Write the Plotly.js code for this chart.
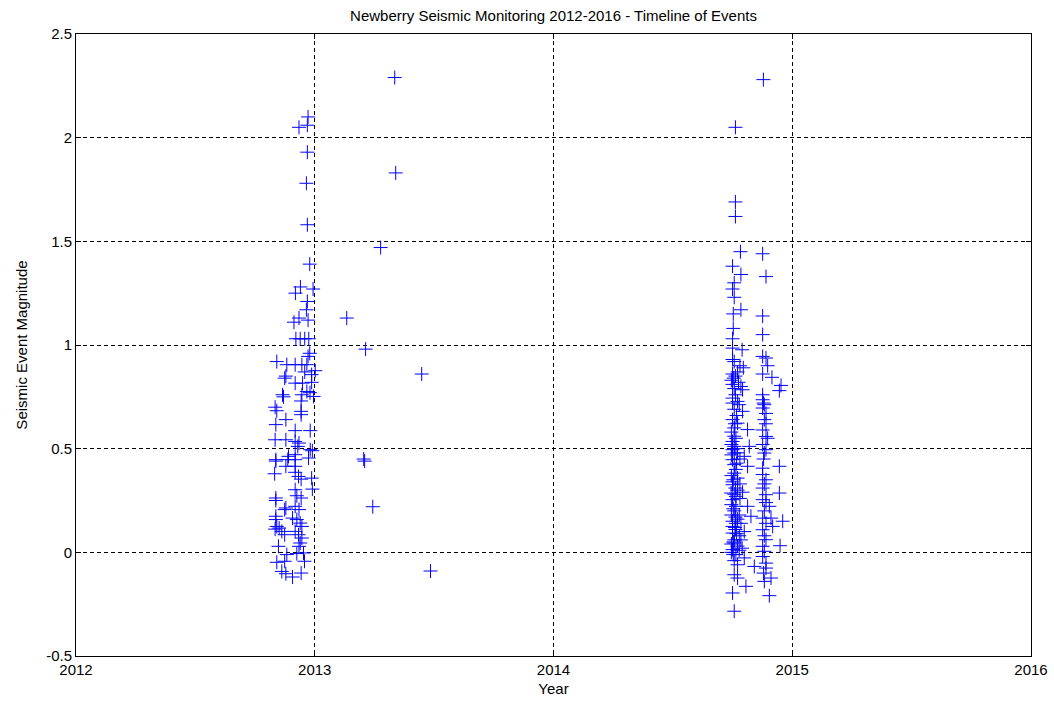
<!DOCTYPE html>
<html>
<head>
<meta charset="utf-8">
<script src="https://cdn.plot.ly/plotly-3.0.1.min.js"></script>
<style>html,body{margin:0;padding:0;background:#fff;}#chart{width:1054px;height:704px;}</style>
</head>
<body>
<div id="chart"></div>
<script>
// ---- Data ----
// Cluster late 2012
var yearsA = [2012.972,2012.969,2012.934,2012.969,2012.965,2012.969,2012.979,2012.940,2012.919,2012.993,2012.969,2012.965,2012.934,2012.913,2012.972,
2012.921,2012.939,2012.958,2012.975,2012.979,2012.972,2012.841,2012.883,2012.918,2012.946,2012.967,2013.002,2012.958,2012.987,2012.879,2012.874,
2012.918,2012.949,2012.987,2012.967,2012.980,2012.995,2012.865,2012.869,2012.946,2012.943,2012.834,2012.841,2012.943,2012.943,2012.879,2012.837,
2012.918,2012.981,2012.834,2012.879,2012.918,2012.934,2012.929,2012.981,2012.990,2012.918,2012.890,2012.837,2012.837,2012.887,2012.918,2012.974,
2012.879,2012.918,2012.832,2012.918,2012.932,2012.943,2012.987,2012.990,2012.918,2012.925,2012.943,2012.837,2012.837,2012.879,2012.874,2012.918,
2012.934,2012.837,2012.837,2012.907,2012.925,2012.939,2012.946,2012.841,2012.851,2012.834,2012.862,2012.874,2012.918,2012.932,2012.946,2012.939,
2012.934,2012.848,2012.883,2012.925,2012.953,2012.957,2012.841,2012.874,2012.862,2012.879,2012.907,2012.943];
var magsA = [2.10,2.06,2.05,1.93,1.78,1.58,1.39,1.28,1.25,1.27,1.21,1.17,1.13,1.11,1.12,
1.03,1.03,1.03,1.03,0.96,0.945,0.92,0.905,0.905,0.905,0.905,0.876,0.87,0.857,0.85,0.84,
0.816,0.816,0.82,0.776,0.77,0.752,0.76,0.75,0.76,0.73,0.70,0.683,0.68,0.664,0.64,0.616,
0.587,0.587,0.543,0.543,0.535,0.527,0.511,0.495,0.49,0.471,0.463,0.447,0.44,0.447,0.447,0.455,
0.415,0.415,0.379,0.386,0.366,0.353,0.358,0.305,0.302,0.273,0.262,0.262,0.25,0.214,0.206,0.222,
0.206,0.174,0.158,0.165,0.158,0.141,0.125,0.125,0.117,0.112,0.101,0.085,0.101,0.085,0.069,0.045,
0.029,0.029,-0.011,-0.006,-0.003,-0.043,-0.048,-0.043,-0.092,-0.103,-0.119,-0.10];

// Isolated events in 2013
var yearsB = [2013.335,2013.339,2013.276,2013.134,2013.213,2013.448,2013.205,2013.209,2013.243,2013.485];
var magsB  = [2.29,1.83,1.47,1.13,0.98,0.86,0.45,0.44,0.22,-0.09];

// Cluster late 2014 (first column)
var yearsC = [2014.762,2014.762,2014.762,2014.783,2014.750,2014.785,2014.757,2014.750,2014.757,2014.785,2014.753,2014.753,2014.750,2014.750,2014.790,
2014.750,2014.757,2014.781,2014.795,2014.750,2014.762,2014.755,2014.775,2014.750,2014.785,2014.757,2014.792,2014.750,2014.771,2014.778,2014.792,2014.757,
2014.750,2014.771,2014.813,2014.757,2014.757,2014.750,2014.757,2014.820,2014.750,2014.757,2014.799,2014.764,2014.745,2014.745,
2014.750,2014.757,2014.813,2014.764,2014.757,2014.771,2014.750,2014.750,2014.744,2014.764,2014.792,2014.771,
2014.750,2014.764,2014.813,2014.827,2014.757,2014.745,2014.771,2014.750,2014.750,2014.785,2014.762,2014.750,2014.778,2014.757,2014.757,2014.771,
2014.750,2014.790,2014.764,2014.745,2014.799,2014.757,2014.841,2014.771,2014.757,2014.771,2014.806,2014.750,2014.757,
2014.753,2014.767,2014.760,2014.778,2014.745,2014.781,2014.753,2014.762,2014.757,2014.762,2014.781,2014.753,2014.745,2014.767,2014.781,
2014.771,2014.764,2014.745,2014.760,2014.767,2014.750,2014.762,2014.745,2014.771,2014.785,2014.753,2014.778,2014.745,2014.799,2014.764];
var magsC = [2.05,1.69,1.62,1.45,1.38,1.34,1.30,1.27,1.23,1.17,1.15,1.08,1.03,0.985,0.977,
0.93,0.92,0.90,0.89,0.86,0.85,0.84,0.82,0.81,0.80,0.79,0.784,0.744,0.728,0.712,0.68,0.69,
0.64,0.623,0.592,0.60,0.56,0.535,0.511,0.511,0.495,0.479,0.463,0.50,0.52,0.47,
0.447,0.423,0.415,0.40,0.382,0.358,0.34,0.326,0.286,0.27,0.29,0.30,
0.254,0.222,0.222,0.174,0.20,0.18,0.16,0.15,0.125,0.14,0.11,0.093,0.08,0.06,0.045,0.03,
0.013,0.02,-0.011,0.0,-0.027,-0.04,-0.068,-0.06,-0.108,-0.124,-0.164,-0.196,-0.284,
0.05,0.09,0.12,0.18,0.23,0.26,0.21,0.17,0.28,0.31,0.33,0.35,0.37,0.43,0.45,
0.48,0.55,0.58,0.62,0.66,0.72,0.76,0.83,0.87,0.06,-0.01,0.01,0.04,0.10,0.14];

// Cluster late 2014 (second column)
var yearsD = [2014.879,2014.876,2014.890,2014.876,2014.876,2014.876,2014.890,2014.897,2014.876,2014.915,2014.953,2014.946,
2014.876,2014.876,2014.883,2014.876,2014.880,2014.890,2014.876,2014.890,2014.897,2014.890,2014.883,2014.946,2014.876,2014.876,2014.890,
2014.946,2014.876,2014.890,2014.876,2014.904,2014.876,2014.911,2014.960,2014.918,2014.876,2014.890,2014.876,2014.949,2014.883,
2014.890,2014.890,2014.911,2014.883,2014.904,
2014.883,2014.890,2014.880,2014.876,2014.883,2014.890,2014.883,2014.883,2014.890,2014.876,2014.880];
var magsD = [2.28,1.44,1.33,1.14,1.05,0.945,0.937,0.90,0.86,0.844,0.805,0.78,
0.76,0.736,0.712,0.696,0.72,0.62,0.59,0.559,0.55,0.495,0.479,0.415,0.406,0.375,0.35,
0.286,0.31,0.278,0.254,0.222,0.165,0.165,0.15,0.125,0.109,0.061,0.029,0.032,0.005,
-0.052,-0.076,-0.124,-0.14,-0.209,
0.20,0.24,0.45,0.52,0.64,0.67,0.33,0.08,0.14,-0.02,-0.10];

var yearTicks = [2012, 2013, 2014, 2015, 2016];
var yearTickText = ['2012', '2013', '2014', '2015', '2016'];
var magTicks = [-0.5, 0, 0.5, 1, 1.5, 2, 2.5];
var magTickText = ['-0.5', '0', '0.5', '1', '1.5', '2', '2.5'];

// ---- Chart ----
var allYears = yearsA.concat(yearsB, yearsC, yearsD);
var allMags = magsA.concat(magsB, magsC, magsD);

var trace = {
  x: allYears,
  y: allMags,
  mode: 'markers',
  type: 'scatter',
  marker: {
    symbol: 'cross-thin-open',
    size: 10,
    color: '#0000ff',
    line: {color: '#0000ff', width: 1}
  },
  hoverinfo: 'x+y'
};

var fontFam = '"Liberation Sans", Arial, sans-serif';
var axisCommon = {
  showline: true,
  linecolor: '#000',
  linewidth: 1,
  mirror: 'ticks',
  ticks: 'inside',
  ticklen: 5,
  tickcolor: '#000',
  showgrid: true,
  gridcolor: '#000',
  gridwidth: 1,
  griddash: '4px,3px',
  zeroline: false,
  tickfont: {family: fontFam, size: 15, color: '#000'}
};

var layout = {
  width: 1054,
  height: 704,
  margin: {l: 76, r: 23, t: 34, b: 48},
  paper_bgcolor: '#fff',
  plot_bgcolor: '#fff',
  showlegend: false,
  title: {
    text: 'Newberry Seismic Monitoring 2012-2016 - Timeline of Events',
    font: {family: fontFam, size: 15, color: '#000'},
    x: 0.5, xref: 'paper', xanchor: 'center',
    y: 0.977, yanchor: 'middle'
  },
  xaxis: Object.assign({}, axisCommon, {
    range: [2012, 2016],
    tickmode: 'array',
    tickvals: yearTicks,
    ticktext: yearTickText,
    title: {text: 'Year', font: {family: fontFam, size: 15, color: '#000'}, standoff: 6}
  }),
  yaxis: Object.assign({}, axisCommon, {
    range: [-0.5, 2.5],
    tickmode: 'array',
    tickvals: magTicks,
    ticktext: magTickText,
    title: {text: 'Seismic Event Magnitude', font: {family: fontFam, size: 15, color: '#000'}, standoff: 14}
  })
};

Plotly.newPlot('chart', [trace], layout, {displayModeBar: false, staticPlot: true});
</script>
</body>
</html>
